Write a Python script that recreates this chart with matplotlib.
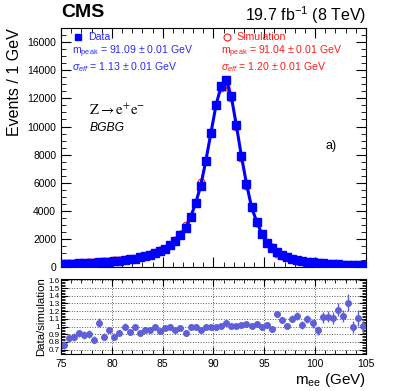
import numpy as np
import matplotlib
matplotlib.use("Agg")
import matplotlib.pyplot as plt
from matplotlib.ticker import MultipleLocator

plt.rcParams['font.family'] = ['Liberation Sans', 'DejaVu Sans']
plt.rcParams['mathtext.fontset'] = 'custom'
plt.rcParams['mathtext.rm'] = 'Liberation Sans'
plt.rcParams['mathtext.it'] = 'Liberation Sans:italic'
plt.rcParams['mathtext.bf'] = 'Liberation Sans:bold'

# bin centres (0.5 GeV bins from 75 to 105)
mass = np.arange(75.25, 105.0, 0.5)

data = [210, 225, 240, 260, 275, 295, 315, 340, 365, 390,
        420, 455, 490, 540, 600, 680, 770, 880, 1000, 1130,
        1290, 1540, 1860, 2290, 2760, 3550, 4550, 5800, 7570, 9540,
        11520, 12870, 13300, 12160, 10090, 7900, 5930, 4260, 3240, 2380,
        1740, 1380, 1100, 860, 720, 600, 510, 440, 380, 330,
        290, 260, 235, 215, 195, 180, 170, 160, 150, 140]

sim = [276, 265, 279, 286, 309, 328, 380, 324, 420, 406,
       483, 495, 490, 581, 606, 747, 802, 917, 1000, 1202,
       1316, 1556, 1958, 2337, 3000, 3586, 4550, 6042, 7646, 9636,
       11520, 12743, 12788, 12040, 9990, 7745, 5757, 4218, 3146, 2380,
       1706, 1423, 948, 796, 713, 545, 447, 431, 345, 317,
       305, 232, 208, 194, 160, 158, 130, 162, 135, 139]

ratio = [0.76, 0.85, 0.86, 0.91, 0.89, 0.90, 0.83, 1.05, 0.87, 0.96,
         0.87, 0.92, 1.00, 0.93, 0.99, 0.91, 0.96, 0.96, 1.00, 0.94,
         0.98, 0.99, 0.95, 0.98, 0.92, 0.99, 1.00, 0.96, 0.99, 0.99,
         1.00, 1.01, 1.04, 1.01, 1.01, 1.02, 1.03, 1.01, 1.03, 1.00,
         1.02, 0.97, 1.16, 1.08, 1.01, 1.10, 1.14, 1.02, 1.10, 1.04,
         0.95, 1.12, 1.13, 1.11, 1.22, 1.14, 1.31, 0.99, 1.11, 1.01]

ratio_err = [0.05, 0.05, 0.05, 0.05, 0.05, 0.05, 0.05, 0.06, 0.04, 0.04,
             0.04, 0.04, 0.04, 0.035, 0.035, 0.03, 0.03, 0.03, 0.03, 0.025,
             0.025, 0.02, 0.02, 0.02, 0.015, 0.015, 0.012, 0.01, 0.01, 0.01,
             0.01, 0.01, 0.01, 0.01, 0.01, 0.01, 0.01, 0.012, 0.015, 0.02,
             0.025, 0.03, 0.035, 0.04, 0.04, 0.045, 0.05, 0.05, 0.055, 0.06,
             0.06, 0.07, 0.07, 0.075, 0.08, 0.08, 0.11, 0.08, 0.1, 0.09]

ratio_ticks = [0.7, 0.8, 0.9, 1.0, 1.1, 1.2, 1.3, 1.4, 1.5, 1.6]
ratio_labels = ['0.7', '0.8', '0.9', '1', '1.1', '1.2', '1.3', '1.4', '1.5', '1.6']

blue = '#0000ff'
red = '#ff1a1a'
ratio_col = '#5f5fd9'

fig = plt.figure(figsize=(4.07, 3.91), dpi=100)
ax = fig.add_axes([0.150, 0.317, 0.749, 0.611])
axr = fig.add_axes([0.150, 0.095, 0.749, 0.192])

# main panel
ax.plot(mass, sim, color=red, lw=1.0, zorder=2)
ax.plot(mass, sim, 'o', mfc='none', mec=red, ms=5, mew=0.8, zorder=2)
ax.plot(mass, data, color=blue, lw=2.2, zorder=3)
ax.plot(mass, data, 's', color=blue, ms=6, zorder=4)

ax.set_xlim(75, 105)
ax.set_ylim(0, 17000)
ax.yaxis.set_major_locator(MultipleLocator(2000))
ax.yaxis.set_minor_locator(MultipleLocator(500))
ax.xaxis.set_major_locator(MultipleLocator(5))
ax.xaxis.set_minor_locator(MultipleLocator(1))
ax.tick_params(which='both', direction='in', top=True, right=True, labelsize=7.5)
ax.tick_params(which='major', length=7)
ax.tick_params(which='minor', length=3.5)
ax.tick_params(axis='x', labelbottom=False)
ax.set_ylabel('Events / 1 GeV', fontsize=11.5, loc='top', labelpad=4)

# legend-like annotations
ax.plot([0.056], [0.962], 's', color=blue, ms=5, transform=ax.transAxes)
ax.text(0.089, 0.962, 'Data', color='#2a2aff', fontsize=7.6, va='center', transform=ax.transAxes)
ax.text(0.036, 0.900, r'm$_{\mathrm{peak}}$ = 91.09 $\pm$ 0.01 GeV', color='#2a2aff',
        fontsize=7.6, va='center', transform=ax.transAxes)
ax.text(0.036, 0.837, r'$\sigma_{eff}$ = 1.13 $\pm$ 0.01 GeV', color='#2a2aff',
        fontsize=7.6, va='center', transform=ax.transAxes)
ax.plot([0.544], [0.962], 'o', mfc='none', mec=red, ms=5, mew=0.8, transform=ax.transAxes)
ax.text(0.577, 0.962, 'Simulation', color=red, fontsize=7.6, va='center', transform=ax.transAxes)
ax.text(0.525, 0.900, r'm$_{\mathrm{peak}}$ = 91.04 $\pm$ 0.01 GeV', color=red,
        fontsize=7.6, va='center', transform=ax.transAxes)
ax.text(0.525, 0.837, r'$\sigma_{eff}$ = 1.20 $\pm$ 0.01 GeV', color=red,
        fontsize=7.6, va='center', transform=ax.transAxes)

ax.text(0.092, 0.657, r'$\mathrm{Z \rightarrow e^{+}e^{-}}$', fontsize=10.5, va='center',
        math_fontfamily='stix', transform=ax.transAxes)
ax.text(0.095, 0.582, 'BGBG', fontsize=8.7, style='italic', va='center', transform=ax.transAxes)
ax.text(0.869, 0.506, 'a)', fontsize=9, va='center', transform=ax.transAxes)

# ratio panel
axr.errorbar(mass, ratio, yerr=ratio_err, fmt='o', color=ratio_col, ms=4, elinewidth=1, capsize=0)
axr.set_xlim(75, 105)
axr.set_ylim(0.645, 1.62)
axr.yaxis.set_minor_locator(MultipleLocator(0.02))
axr.xaxis.set_major_locator(MultipleLocator(5))
axr.xaxis.set_minor_locator(MultipleLocator(1))
axr.set_yticks(ratio_ticks)
axr.set_yticklabels(ratio_labels)
axr.tick_params(which='both', direction='in', top=True, right=True, labelsize=7.5)
axr.tick_params(axis='y', labelsize=5.8, pad=1)
axr.tick_params(which='major', length=5)
axr.tick_params(which='minor', length=3)
axr.grid(True, which='major', linestyle=':', color='#555555', lw=0.7)
axr.set_ylabel('Data/simulation', fontsize=8.2, labelpad=2)
axr.set_xlabel(r'm$_{\mathrm{ee}}$ (GeV)', fontsize=11, loc='right', labelpad=2)

fig.text(0.150, 0.967, 'CMS', fontsize=14, fontweight='bold', va='center', ha='left')
fig.text(0.899, 0.962, r'19.7 fb$^{-1}$ (8 TeV)', fontsize=11.5, va='center', ha='right')

fig.savefig('out.png', dpi=100)
